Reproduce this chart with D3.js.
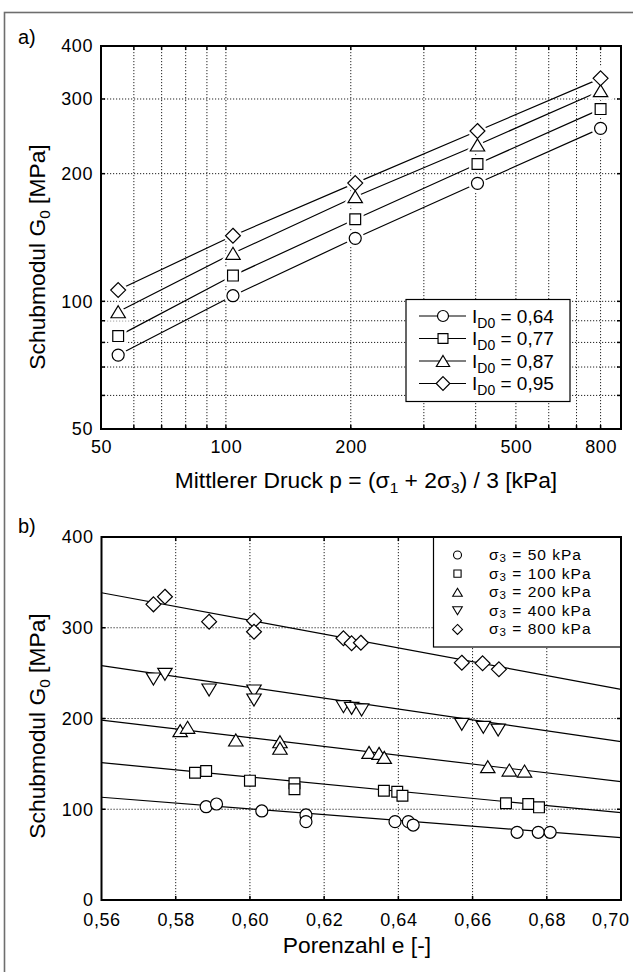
<!DOCTYPE html>
<html>
<head>
<meta charset="utf-8">
<script src="https://cdn.jsdelivr.net/npm/d3@7"></script>
<style>
  html, body { margin: 0; padding: 0; background: #fff; }
  svg { display: block; }
  text { font-family: "Liberation Sans", Arial, Helvetica, sans-serif; fill: #000; }
</style>
</head>
<body>
<script>
// ---------- Panel a: G0 versus mean pressure (log-log) ----------
const densityLabels = ["0,64", "0,77", "0,87", "0,95"];
const meanPressure = [55, 104, 205, 404, 800];           // kPa
const g0Density064 = [74.7, 103.1, 140.8, 189.8, 255.8]; // MPa
const g0Density077 = [82.8, 115.0, 156.1, 210.8, 284.0];
const g0Density087 = [94.5, 129.8, 176.5, 233.7, 313.8];
const g0Density095 = [106.3, 142.8, 190.0, 252.2, 335.6];
const pressureTicks = [50, 100, 200, 500, 800];
const pressureGrid = [60, 70, 80, 90, 100, 200, 300, 400, 500, 600, 700, 800];
const g0TicksA = [50, 100, 200, 300, 400];
const g0GridA = [60, 70, 80, 90, 100, 200, 300];

// ---------- Panel b: G0 versus void ratio ----------
const stressLabels = ["50", "100", "200", "400", "800"];
const voidRatio50 = [0.5882, 0.5910, 0.6032, 0.6151, 0.6151, 0.6391, 0.6427, 0.6440, 0.6720, 0.6777, 0.6809];
const g0Stress50 = [102.8, 105.8, 98.1, 93.7, 86.3, 86.3, 86.3, 82.6, 74.6, 74.6, 74.6];
const voidRatio100 = [0.5852, 0.5882, 0.6000, 0.6120, 0.6120, 0.6361, 0.6397, 0.6411, 0.6690, 0.6750, 0.6779];
const g0Stress100 = [140.3, 142.1, 131.5, 128.6, 122.0, 120.4, 119.3, 114.9, 106.6, 105.8, 102.1];
const voidRatio200 = [0.5812, 0.5832, 0.5962, 0.6081, 0.6081, 0.6321, 0.6348, 0.6362, 0.6641, 0.6699, 0.6740];
const g0Stress200 = [186.6, 190.3, 176.3, 174.4, 167.2, 162.7, 161.6, 157.2, 146.9, 143.2, 142.1];
const voidRatio400 = [0.5740, 0.5771, 0.5890, 0.6011, 0.6011, 0.6252, 0.6274, 0.6301, 0.6571, 0.6629, 0.6669];
const g0Stress400 = [243.5, 248.7, 231.4, 230.3, 220.4, 213.0, 211.2, 209.4, 193.6, 190.3, 187.3];
const voidRatio800 = [0.5740, 0.5771, 0.5890, 0.6011, 0.6011, 0.6252, 0.6274, 0.6299, 0.6571, 0.6627, 0.6671];
const g0Stress800 = [325.8, 334.2, 306.7, 307.8, 295.6, 288.4, 282.9, 283.5, 261.5, 260.8, 254.2];
// regression lines: G0 at e = 0.56 and at e = 0.70
const fitStart = [113.2, 151.3, 198.3, 258.2, 338.6];
const fitEnd = [68.7, 96.2, 130.4, 174.5, 232.1];
const voidTicks = [0.56, 0.58, 0.60, 0.62, 0.64, 0.66, 0.68, 0.70];
const g0TicksB = [0, 100, 200, 300, 400];
const g0GridB = [100, 200, 300];

const W = 633, H = 972;
const svg = d3.select("body").append("svg").attr("width", W).attr("height", H);

// outer frame
svg.append("rect").attr("x", 4.5).attr("y", 12.5).attr("width", 700).attr("height", 1000)
  .attr("fill", "none").attr("stroke", "#6e6e6e").attr("stroke-width", 1.6);

// marker shapes
function markerPath(kind, s) {
  const p = d3.path();
  if (kind === "circle") { p.arc(0, 0, s * 0.5, 0, 2 * Math.PI); p.closePath(); }
  else if (kind === "square") { const h = s * 0.45; p.rect(-h, -h, 2 * h, 2 * h); }
  else if (kind === "triangle") { const w = s * 0.6, hh = s * 0.5; p.moveTo(0, -hh); p.lineTo(w, hh); p.lineTo(-w, hh); p.closePath(); }
  else if (kind === "triangleDown") { const w = s * 0.6, hh = s * 0.5; p.moveTo(0, hh); p.lineTo(w, -hh); p.lineTo(-w, -hh); p.closePath(); }
  else if (kind === "diamond") { const r = s * 0.62; p.moveTo(0, -r); p.lineTo(r, 0); p.lineTo(0, r); p.lineTo(-r, 0); p.closePath(); }
  return p.toString();
}

function drawFrame(g, x0, x1, y0, y1) {
  g.append("rect").attr("x", x0).attr("y", y0).attr("width", x1 - x0).attr("height", y1 - y0)
    .attr("fill", "none").attr("stroke", "#000").attr("stroke-width", 2);
}

function gridV(g, xs, y0, y1) {
  g.selectAll(null).data(xs).join("line")
    .attr("x1", d => d).attr("x2", d => d).attr("y1", y0).attr("y2", y1)
    .attr("stroke", "#222").attr("stroke-width", 1).attr("stroke-dasharray", "1.2,1.8");
}
function gridH(g, ys, x0, x1) {
  g.selectAll(null).data(ys).join("line")
    .attr("y1", d => d).attr("y2", d => d).attr("x1", x0).attr("x2", x1)
    .attr("stroke", "#222").attr("stroke-width", 1).attr("stroke-dasharray", "1.2,1.8");
}
function ticksInward(g, xs, ys, x0, x1, y0, y1, len) {
  xs.forEach(x => {
    g.append("line").attr("x1", x).attr("x2", x).attr("y1", y1).attr("y2", y1 - len).attr("stroke", "#000").attr("stroke-width", 1.5);
    g.append("line").attr("x1", x).attr("x2", x).attr("y1", y0).attr("y2", y0 + len).attr("stroke", "#000").attr("stroke-width", 1.5);
  });
  ys.forEach(y => {
    g.append("line").attr("y1", y).attr("y2", y).attr("x1", x0).attr("x2", x0 + len).attr("stroke", "#000").attr("stroke-width", 1.5);
    g.append("line").attr("y1", y).attr("y2", y).attr("x1", x1).attr("x2", x1 - len).attr("stroke", "#000").attr("stroke-width", 1.5);
  });
}
function styleTicks(a) {
  a.select(".domain").remove();
  a.selectAll("text").attr("font-size", tickFont).attr("font-family", null).attr("letter-spacing", 0.6);
}

const tickFont = 18, titleFont = 22.8;

// ================= Panel a =================
{
  const L = 101, R = 621, T = 46, B = 429;
  const x = d3.scaleLog().domain([50, 896]).range([L, R]);
  const y = d3.scaleLog().domain([50, 400]).range([B, T]);
  const g = svg.append("g");

  gridV(g, pressureGrid.map(x), T, B);
  gridH(g, g0GridA.map(y), L, R);

  const xa = g.append("g").attr("transform", `translate(0,${B})`)
    .call(d3.axisBottom(x).tickValues(pressureTicks).tickFormat(d3.format("d")).tickSize(0).tickPadding(8));
  const ya = g.append("g").attr("transform", `translate(${L},0)`)
    .call(d3.axisLeft(y).tickValues(g0TicksA).tickFormat(d3.format("d")).tickSize(0).tickPadding(8));
  styleTicks(xa); styleTicks(ya);
  xa.selectAll("text").attr("dy", "0.9em");

  const series = [
    { vals: g0Density064, kind: "circle" },
    { vals: g0Density077, kind: "square" },
    { vals: g0Density087, kind: "triangle" },
    { vals: g0Density095, kind: "diamond" }
  ];
  const line = d3.line().x(d => x(d[0])).y(d => y(d[1]));
  series.forEach(s => {
    const pts = meanPressure.map((p, i) => [p, s.vals[i]]);
    g.append("path").attr("d", line(pts)).attr("fill", "none").attr("stroke", "#000").attr("stroke-width", 1.2);
  });
  // white halo leaves a small gap between connecting lines and markers
  series.forEach(s => {
    const pts = meanPressure.map((p, i) => [p, s.vals[i]]);
    g.selectAll(null).data(pts).join("path")
      .attr("transform", d => `translate(${x(d[0])},${y(d[1])})`)
      .attr("d", markerPath(s.kind, 12)).attr("fill", "#fff").attr("stroke", "#fff").attr("stroke-width", 6);
  });
  series.forEach(s => {
    const pts = meanPressure.map((p, i) => [p, s.vals[i]]);
    g.selectAll(null).data(pts).join("path")
      .attr("transform", d => `translate(${x(d[0])},${y(d[1])})`)
      .attr("d", markerPath(s.kind, 12)).attr("fill", "#fff").attr("stroke", "#000").attr("stroke-width", 1.2);
  });

  ticksInward(g, pressureGrid.map(x), g0GridA.map(y), L, R, T, B, 4);
  drawFrame(g, L, R, T, B);

  // legend
  const lg = g.append("g");
  lg.append("rect").attr("x", 406).attr("y", 299.5).attr("width", 164).attr("height", 102)
    .attr("fill", "#fff").attr("stroke", "#000").attr("stroke-width", 1.2);
  series.forEach((s, i) => {
    const cy = 316 + i * 22.5;
    lg.append("line").attr("x1", 419).attr("x2", 466).attr("y1", cy).attr("y2", cy).attr("stroke", "#000").attr("stroke-width", 1.2);
    lg.append("path").attr("transform", `translate(443,${cy})`).attr("d", markerPath(s.kind, 11))
      .attr("fill", "#fff").attr("stroke", "#000").attr("stroke-width", 1.2);
    const t = lg.append("text").attr("x", 472).attr("y", cy + 6.5).attr("font-size", 19);
    t.append("tspan").text("I");
    t.append("tspan").attr("font-size", 14).attr("dy", 5).text("D0");
    t.append("tspan").attr("dy", -5).text(" = " + densityLabels[i]);
  });

  // titles
  svg.append("text").attr("x", 18).attr("y", 44).attr("font-size", 20).text("a)");
  const xt = svg.append("text").attr("x", 366).attr("y", 488).attr("text-anchor", "middle").attr("font-size", titleFont);
  xt.append("tspan").text("Mittlerer Druck p = (σ");
  xt.append("tspan").attr("font-size", 15.5).attr("dy", 5).text("1");
  xt.append("tspan").attr("dy", -5).text(" + 2σ");
  xt.append("tspan").attr("font-size", 15.5).attr("dy", 5).text("3");
  xt.append("tspan").attr("dy", -5).text(") / 3 [kPa]");
  const yt = svg.append("text").attr("transform", "translate(45,257) rotate(-90)").attr("text-anchor", "middle").attr("font-size", titleFont);
  yt.append("tspan").text("Schubmodul G");
  yt.append("tspan").attr("font-size", 15.5).attr("dy", 5).text("0");
  yt.append("tspan").attr("dy", -5).text(" [MPa]");
}

// ================= Panel b =================
{
  const L = 101.5, R = 621, T = 537, B = 900;
  const x = d3.scaleLinear().domain([0.56, 0.70]).range([L, R]);
  const y = d3.scaleLinear().domain([0, 400]).range([B, T]);
  const g = svg.append("g");

  gridV(g, voidTicks.slice(1, -1).map(x), T, B);
  gridH(g, g0GridB.map(y), L, R);

  const fmt = d => d3.format(".2f")(d).replace(".", ",");
  const xa = g.append("g").attr("transform", `translate(0,${B})`)
    .call(d3.axisBottom(x).tickValues(voidTicks).tickFormat(fmt).tickSize(0).tickPadding(8));
  const ya = g.append("g").attr("transform", `translate(${L},0)`)
    .call(d3.axisLeft(y).tickValues(g0TicksB).tickFormat(d3.format("d")).tickSize(0).tickPadding(8));
  styleTicks(xa); styleTicks(ya);
  xa.selectAll("text").attr("dy", "1em");
  // last label is pulled inside the page edge
  xa.selectAll(".tick").filter(d => d === 0.70).select("text")
    .attr("text-anchor", "end").attr("x", 629 - R);

  const kinds = ["circle", "square", "triangle", "triangleDown", "diamond"];
  const ex = [voidRatio50, voidRatio100, voidRatio200, voidRatio400, voidRatio800];
  const gy = [g0Stress50, g0Stress100, g0Stress200, g0Stress400, g0Stress800];

  kinds.forEach((k, i) => {
    g.append("line").attr("x1", x(0.56)).attr("y1", y(fitStart[i])).attr("x2", x(0.70)).attr("y2", y(fitEnd[i]))
      .attr("stroke", "#000").attr("stroke-width", 1.2);
  });
  kinds.forEach((k, i) => {
    const pts = ex[i].map((e, j) => [e, gy[i][j]]);
    g.selectAll(null).data(pts).join("path")
      .attr("transform", d => `translate(${x(d[0])},${y(d[1])})`)
      .attr("d", markerPath(k, 12)).attr("fill", "#fff").attr("stroke", "#000").attr("stroke-width", 1.2);
  });

  ticksInward(g, voidTicks.slice(1, -1).map(x), g0GridB.map(y), L, R, T, B, 4);

  // legend
  const lg = g.append("g");
  lg.append("rect").attr("x", 433.5).attr("y", T).attr("width", R - 433.5).attr("height", 110)
    .attr("fill", "#fff").attr("stroke", "#000").attr("stroke-width", 1.2);
  kinds.forEach((k, i) => {
    const cy = 555 + i * 18.6;
    lg.append("path").attr("transform", `translate(457.5,${cy})`).attr("d", markerPath(k, 8))
      .attr("fill", "#fff").attr("stroke", "#000").attr("stroke-width", 1.1);
    const t = lg.append("text").attr("x", 489).attr("y", cy + 5).attr("font-size", 15.5).attr("letter-spacing", 1.0);
    t.append("tspan").text("σ");
    t.append("tspan").attr("font-size", 11.5).attr("dy", 2).text("3");
    t.append("tspan").attr("dy", -2).text(" = " + stressLabels[i] + " kPa");
  });

  drawFrame(g, L, R, T, B);

  svg.append("text").attr("x", 18).attr("y", 533).attr("font-size", 20).text("b)");
  svg.append("text").attr("x", 357).attr("y", 953).attr("text-anchor", "middle").attr("font-size", titleFont).text("Porenzahl e [-]");
  const yt = svg.append("text").attr("transform", "translate(45,726) rotate(-90)").attr("text-anchor", "middle").attr("font-size", titleFont);
  yt.append("tspan").text("Schubmodul G");
  yt.append("tspan").attr("font-size", 15.5).attr("dy", 5).text("0");
  yt.append("tspan").attr("dy", -5).text(" [MPa]");
}
</script>
</body>
</html>
